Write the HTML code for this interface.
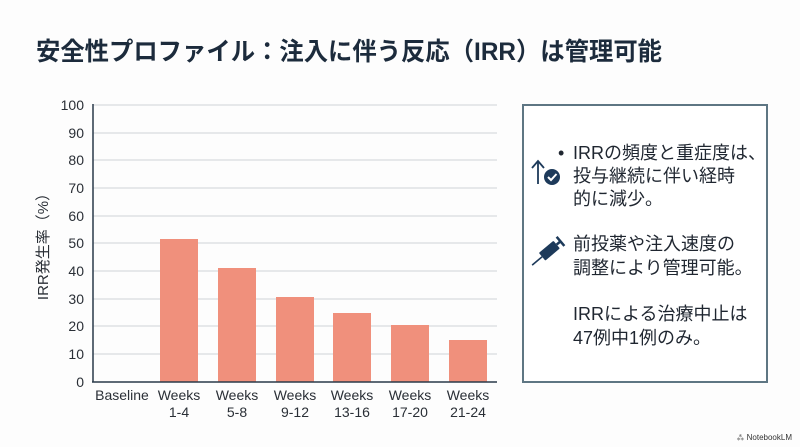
<!DOCTYPE html>
<html><head><meta charset="utf-8"><style>
html,body{margin:0;padding:0;background:#fff;}
svg{display:block;}
text{font-family:"Liberation Sans","Noto Sans CJK JP",sans-serif;}
</style></head><body>
<svg width="800" height="447" viewBox="0 0 800 447" xmlns="http://www.w3.org/2000/svg">
<rect width="800" height="447" fill="#fdfdfd"/>
<text x="36" y="60" font-size="25" font-weight="bold" fill="#1c2b3c" textLength="626" lengthAdjust="spacingAndGlyphs">安全性プロファイル：注入に伴う反応（IRR）は管理可能</text>
<g stroke="#cfd3d8" stroke-width="1">
<line x1="93" y1="105" x2="497" y2="105"/><line x1="93" y1="133" x2="497" y2="133"/>
<line x1="93" y1="160" x2="497" y2="160"/><line x1="93" y1="188" x2="497" y2="188"/>
<line x1="93" y1="216" x2="497" y2="216"/><line x1="93" y1="243" x2="497" y2="243"/>
<line x1="93" y1="271" x2="497" y2="271"/><line x1="93" y1="299" x2="497" y2="299"/>
<line x1="93" y1="326" x2="497" y2="326"/><line x1="93" y1="354" x2="497" y2="354"/>
</g>
<g fill="#f0907c">
<rect x="160" y="239" width="38" height="143"/>
<rect x="218" y="268" width="38" height="114"/>
<rect x="276" y="297" width="38" height="85"/>
<rect x="333" y="313" width="38" height="69"/>
<rect x="391" y="325" width="38" height="57"/>
<rect x="449" y="340" width="38" height="42"/>
</g>
<line x1="93" y1="104" x2="93" y2="382" stroke="#2a3a4a" stroke-width="1.5"/>
<line x1="92" y1="382" x2="497" y2="382" stroke="#2a3a4a" stroke-width="1.5"/>
<g font-size="14" fill="#2a2f36" text-anchor="end">
<text x="84" y="110">100</text><text x="84" y="138">90</text><text x="84" y="165">80</text>
<text x="84" y="193">70</text><text x="84" y="221">60</text><text x="84" y="248">50</text>
<text x="84" y="276">40</text><text x="84" y="304">30</text><text x="84" y="331">20</text>
<text x="84" y="359">10</text><text x="84" y="387">0</text>
</g>
<text transform="translate(48,243) rotate(-90)" font-size="15" fill="#2a2f36" text-anchor="middle">IRR発生率（%）</text>
<g font-size="14" fill="#2a2f36" text-anchor="middle">
<text x="122" y="400">Baseline</text>
<text x="179" y="400">Weeks</text><text x="179" y="417">1-4</text>
<text x="237" y="400">Weeks</text><text x="237" y="417">5-8</text>
<text x="295" y="400">Weeks</text><text x="295" y="417">9-12</text>
<text x="352" y="400">Weeks</text><text x="352" y="417">13-16</text>
<text x="410" y="400">Weeks</text><text x="410" y="417">17-20</text>
<text x="468" y="400">Weeks</text><text x="468" y="417">21-24</text>
</g>
<rect x="523" y="105" width="244" height="277" fill="#fff" stroke="#5e7683" stroke-width="2"/>
<g font-size="18" fill="#1f2630">
<text x="558" y="159">•</text>
<text x="573" y="159">IRRの頻度と重症度は、</text>
<text x="573" y="182">投与継続に伴い経時</text>
<text x="573" y="205">的に減少。</text>
<text x="573" y="250">前投薬や注入速度の</text>
<text x="573" y="274">調整により管理可能。</text>
<text x="573" y="320">IRRによる治療中止は</text>
<text x="573" y="344">47例中1例のみ。</text>
</g>
<g stroke="#1d3a5a" stroke-width="1.8" fill="none">
<line x1="538" y1="184" x2="538" y2="162"/>
<polyline points="532,168 538,161 544,168"/>
</g>
<circle cx="552" cy="177" r="8" fill="#1d3a5a"/>
<polyline points="548,177 551,180 556.5,174" stroke="#fff" stroke-width="2" fill="none"/>
<g transform="translate(549,251) rotate(-40)">
<rect x="-9" y="-5" width="19" height="10" rx="1" fill="#1d3a5a"/>
<line x1="10" y1="0" x2="15" y2="0" stroke="#1d3a5a" stroke-width="2.5"/>
<line x1="15" y1="-6" x2="15" y2="6" stroke="#1d3a5a" stroke-width="2.5"/>
<line x1="-9" y1="0" x2="-22" y2="0" stroke="#1d3a5a" stroke-width="1.6"/>
</g>
<text x="792" y="440" font-size="8" fill="#333" text-anchor="end">⁂ NotebookLM</text>
</svg>
</body></html>
